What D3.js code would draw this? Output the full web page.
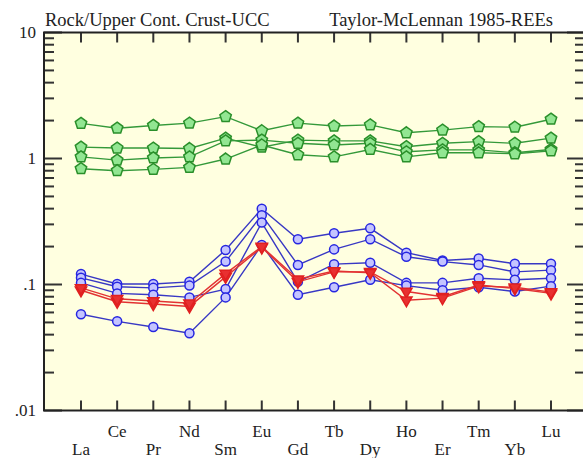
<!DOCTYPE html>
<html>
<head>
<meta charset="utf-8">
<script src="https://cdn.jsdelivr.net/npm/d3@7"></script>
<style>
  body { margin: 0; background: #fff; }
  text { font-family: "Liberation Serif", "Times New Roman", serif; fill: #222; }
</style>
</head>
<body>
<div id="chart"></div>
<script>
// REE elements (x axis)
var elements = ["La", "Ce", "Pr", "Nd", "Sm", "Eu", "Gd", "Tb", "Dy", "Ho", "Er", "Tm", "Yb", "Lu"];
var yTickValues = [0.01, 0.1, 1, 10];
var yTickLabels = [".01", ".1", "1", "10"];

// normalized samples, green group (pentagons)
var green1 = [1.90, 1.74, 1.83, 1.91, 2.15, 1.66, 1.91, 1.81, 1.85, 1.60, 1.68, 1.79, 1.77, 2.05];
var green2 = [1.23, 1.21, 1.21, 1.20, 1.45, 1.23, 1.40, 1.38, 1.38, 1.24, 1.32, 1.36, 1.32, 1.45];
var green3 = [1.03, 0.97, 1.01, 1.03, 1.38, 1.40, 1.32, 1.28, 1.32, 1.13, 1.17, 1.17, 1.11, 1.18];
var green4 = [0.83, 0.80, 0.82, 0.85, 0.99, 1.28, 1.07, 1.03, 1.18, 1.03, 1.11, 1.11, 1.09, 1.15];

// blue group (circles)
var blue1 = [0.121, 0.101, 0.101, 0.105, 0.188, 0.40, 0.229, 0.255, 0.279, 0.179, 0.155, 0.161, 0.146, 0.146];
var blue2 = [0.113, 0.096, 0.094, 0.098, 0.152, 0.355, 0.143, 0.190, 0.229, 0.166, 0.152, 0.143, 0.126, 0.130];
var blue3 = [0.103, 0.085, 0.083, 0.079, 0.092, 0.31, 0.105, 0.145, 0.149, 0.103, 0.103, 0.112, 0.109, 0.112];
var blue4 = [0.058, 0.051, 0.046, 0.041, 0.079, 0.206, 0.083, 0.095, 0.109, 0.098, 0.090, 0.095, 0.088, 0.097];

// red group (down triangles)
var red1 = [0.090, 0.073, 0.070, 0.067, 0.115, 0.197, 0.105, 0.126, 0.126, 0.088, 0.080, 0.099, 0.093, 0.085];
var red2 = [0.094, 0.077, 0.074, 0.071, 0.122, 0.200, 0.110, 0.128, 0.124, 0.075, 0.078, 0.097, 0.095, 0.087];

var groups = [
    {name: "green", series: [green1, green2, green3, green4], line: "#34993a", fill: "#92e692", stroke: "#2a8f2a", shape: "pentagon"},
    {name: "blue", series: [blue1, blue2, blue3, blue4], line: "#3838c4", fill: "#c4c4ff", stroke: "#2626e0", shape: "circle"},
    {name: "red", series: [red1, red2], line: "#e23232", fill: "#e83030", stroke: "#e02020", shape: "triangle"}
];

var width = 583, height = 458;
var margin = {top: 32.5, right: -2, bottom: 47.5, left: 44};

var svg = d3.select("#chart")
.append("svg")
.attr("width", width)
.attr("height", height);

var plotRight = width - margin.right;
var plotBottom = height - margin.bottom;

var x = d3.scalePoint()
.domain(elements)
.range([81, 551]);

var y = d3.scaleLog()
.domain([0.01, 10])
.range([plotBottom, margin.top]);

// background
svg.append("rect")
.attr("x", margin.left)
.attr("y", margin.top)
.attr("width", plotRight - margin.left)
.attr("height", plotBottom - margin.top)
.attr("fill", "#ffffe0");

// title
svg.append("text")
.attr("x", 45)
.attr("y", 26)
.style("font-size", "18.5px")
.text("Rock/Upper Cont. Crust-UCC");
svg.append("text")
.attr("x", 553)
.attr("y", 26)
.attr("text-anchor", "end")
.style("font-size", "18.5px")
.text("Taylor-McLennan 1985-REEs");

// y ticks (left and right, inward), log minor ticks
var minor = [];
for (var p = -2; p < 1; p++) {
    for (var m = 2; m < 10; m++) minor.push(m * Math.pow(10, p));
}
var ticks = svg.append("g").attr("stroke", "#333").attr("stroke-width", 2);
minor.forEach(function (v) {
    ticks.append("line").attr("x1", margin.left).attr("x2", margin.left + 10).attr("y1", y(v)).attr("y2", y(v));
    ticks.append("line").attr("x1", plotRight).attr("x2", plotRight - 10).attr("y1", y(v)).attr("y2", y(v));
});
yTickValues.forEach(function (v) {
    ticks.append("line").attr("x1", margin.left).attr("x2", margin.left + 18).attr("y1", y(v)).attr("y2", y(v));
    ticks.append("line").attr("x1", plotRight).attr("x2", plotRight - 18).attr("y1", y(v)).attr("y2", y(v));
});
// x ticks top and bottom
elements.forEach(function (e) {
    ticks.append("line").attr("x1", x(e)).attr("x2", x(e)).attr("y1", plotBottom).attr("y2", plotBottom - 10);
    ticks.append("line").attr("x1", x(e)).attr("x2", x(e)).attr("y1", margin.top).attr("y2", margin.top + 10);
});

// frame
svg.append("rect")
.attr("x", margin.left)
.attr("y", margin.top)
.attr("width", plotRight - margin.left)
.attr("height", plotBottom - margin.top)
.attr("fill", "none")
.attr("stroke", "#222")
.attr("stroke-width", 2);

// y labels
svg.append("g")
.selectAll("text")
.data(yTickValues)
.enter()
.append("text")
.attr("x", 36)
.attr("y", function (v) { return y(v); })
.attr("dy", "0.35em")
.attr("text-anchor", "end")
.style("font-size", "17px")
.text(function (v, i) { return yTickLabels[i]; });

// x labels, staggered
svg.append("g")
.selectAll("text")
.data(elements)
.enter()
.append("text")
.attr("x", function (e) { return x(e); })
.attr("y", function (e, i) { return i % 2 == 1 ? 437 : 455; })
.attr("text-anchor", "middle")
.style("font-size", "17px")
.text(function (e) { return e; });

function pentagon(r) {
    var pts = [];
    for (var k = 0; k < 5; k++) {
        var a = -Math.PI / 2 + k * 2 * Math.PI / 5;
        pts.push([r * Math.cos(a), r * Math.sin(a)]);
    }
    return "M" + pts.join("L") + "Z";
}

var line = d3.line()
.x(function (d) { return x(d.el); })
.y(function (d) { return y(d.v); });

groups.forEach(function (g) {
    var layer = svg.append("g");
    g.series.forEach(function (s) {
        var pts = s.map(function (v, i) { return {el: elements[i], v: v}; });
        layer.append("path")
        .datum(pts)
        .attr("d", line)
        .attr("fill", "none")
        .attr("stroke", g.line)
        .attr("stroke-width", 1.4);
    });
    g.series.forEach(function (s) {
        var pts = s.map(function (v, i) { return {el: elements[i], v: v}; });
        var sel = layer.append("g")
        .selectAll("path")
        .data(pts)
        .enter()
        .append("path")
        .attr("fill", g.fill)
        .attr("stroke", g.stroke)
        .attr("stroke-width", 1.5);
        if (g.shape == "pentagon") {
            sel.attr("d", pentagon(6))
            .attr("transform", function (d) { return "translate(" + x(d.el) + "," + y(d.v) + ")"; });
        } else if (g.shape == "circle") {
            sel.attr("d", d3.symbol().type(d3.symbolCircle).size(64))
            .attr("transform", function (d) { return "translate(" + x(d.el) + "," + y(d.v) + ")"; });
        } else {
            sel.attr("d", d3.symbol().type(d3.symbolTriangle).size(55))
            .attr("transform", function (d) { return "translate(" + x(d.el) + "," + y(d.v) + ") rotate(180)"; });
        }
    });
});
</script>
</body>
</html>
